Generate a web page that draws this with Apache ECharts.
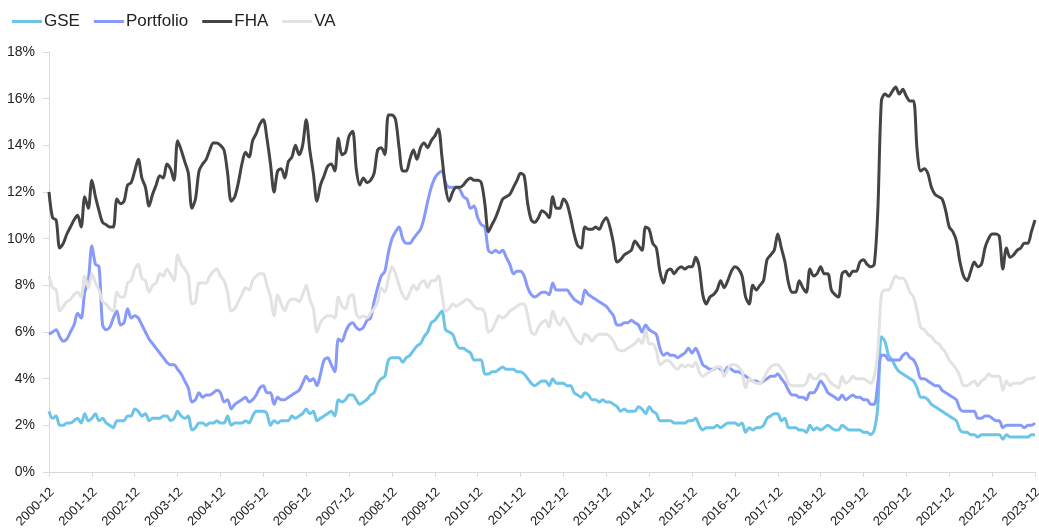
<!DOCTYPE html>
<html lang="en">
<head>
    <meta charset="utf-8">
    <title>Delinquency rates</title>
    <script src="https://cdn.jsdelivr.net/npm/echarts@6/dist/echarts.min.js"></script>
    <style>html,body{margin:0;padding:0;background:#fff;}</style>
</head>
<body>
<div id="main" style="width:1039px;height:531px;"></div>

<script type="text/javascript">
// month labels 2000-12 .. 2023-12
var months = ['2000-12'];
for (var y = 2001; y <= 2023; y++) {
    for (var m = 1; m <= 12; m++) {
        months.push(y + '-' + (m < 10 ? '0' + m : m));
    }
}

// values in %, one per month (first value = 2000-12, then one row per year)
var gse = [2.6,
    2.3, 2.4, 2.0, 2.0, 2.1, 2.1, 2.2, 2.3, 2.1, 2.5, 2.2, 2.3,
    2.5, 2.2, 2.3, 2.1, 2.0, 1.9, 2.2, 2.2, 2.2, 2.4, 2.4, 2.7,
    2.6, 2.4, 2.5, 2.2, 2.3, 2.3, 2.3, 2.4, 2.4, 2.2, 2.3, 2.6,
    2.4, 2.3, 2.4, 1.8, 1.9, 2.1, 2.1, 2.0, 2.1, 2.1, 2.2, 2.1,
    2.1, 2.4, 2.0, 2.1, 2.1, 2.1, 2.2, 2.1, 2.4, 2.6, 2.6, 2.6,
    2.5, 2.0, 2.2, 2.1, 2.2, 2.2, 2.2, 2.4, 2.3, 2.4, 2.5, 2.7,
    2.5, 2.6, 2.2, 2.3, 2.4, 2.5, 2.6, 2.4, 3.1, 3.0, 3.1, 3.3,
    3.3, 3.1, 2.9, 3.0, 3.1, 3.3, 3.4, 3.8, 4.0, 4.1, 4.8, 4.9,
    4.9, 4.9, 4.7, 4.9, 5.0, 5.2, 5.4, 5.5, 5.8, 6.0, 6.4, 6.5,
    6.7, 6.9, 6.1, 6.0, 5.9, 5.5, 5.3, 5.3, 5.2, 5.1, 4.8, 4.8,
    4.8, 4.2, 4.2, 4.3, 4.3, 4.4, 4.5, 4.4, 4.4, 4.4, 4.3, 4.3,
    4.2, 4.0, 3.8, 3.7, 3.8, 3.9, 3.9, 3.7, 4.0, 3.8, 3.8, 3.8,
    3.7, 3.7, 3.4, 3.3, 3.2, 3.4, 3.3, 3.1, 3.1, 3.0, 3.1, 3.0,
    3.0, 2.9, 2.8, 2.6, 2.7, 2.6, 2.6, 2.6, 2.8, 2.7, 2.5, 2.8,
    2.6, 2.5, 2.2, 2.2, 2.2, 2.2, 2.1, 2.1, 2.1, 2.1, 2.2, 2.2,
    2.3, 2.0, 1.8, 1.9, 1.9, 1.9, 2.0, 1.9, 2.0, 2.1, 2.1, 2.1,
    2.0, 2.1, 1.7, 1.9, 1.8, 1.9, 1.9, 2.0, 2.3, 2.4, 2.5, 2.5,
    2.2, 2.3, 1.9, 1.9, 1.9, 1.8, 1.8, 1.7, 2.0, 1.8, 1.9, 1.8,
    1.9, 2.0, 1.9, 1.8, 1.8, 2.0, 1.9, 1.8, 1.8, 1.8, 1.8, 1.7,
    1.7, 1.6, 1.8, 2.8, 5.8, 5.6, 5.0, 4.8, 4.5, 4.3, 4.2, 4.1,
    4.0, 3.9, 3.6, 3.2, 3.2, 3.1, 2.9, 2.8, 2.7, 2.6, 2.5, 2.4,
    2.3, 2.2, 1.8, 1.7, 1.7, 1.6, 1.6, 1.5, 1.6, 1.6, 1.6, 1.6,
    1.6, 1.6, 1.4, 1.6, 1.5, 1.5, 1.5, 1.5, 1.5, 1.5, 1.6, 1.6];

var portfolio = [5.9,
    6.0, 6.1, 5.8, 5.6, 5.7, 6.0, 6.3, 6.8, 6.6, 7.7, 8.2, 9.7,
    8.9, 8.8, 6.3, 6.1, 6.2, 6.6, 6.9, 6.3, 6.4, 7.0, 6.6, 6.7,
    6.6, 6.3, 6.0, 5.7, 5.5, 5.3, 5.1, 4.9, 4.7, 4.6, 4.6, 4.4,
    4.2, 3.9, 3.6, 3.0, 3.1, 3.4, 3.2, 3.3, 3.3, 3.4, 3.5, 3.4,
    3.0, 3.1, 2.7, 2.9, 3.0, 3.1, 3.2, 3.0, 3.1, 3.3, 3.6, 3.7,
    3.4, 3.4, 2.9, 3.2, 3.1, 3.1, 3.2, 3.3, 3.4, 3.5, 3.8, 4.1,
    3.9, 4.0, 3.7, 4.2, 4.8, 4.9, 4.6, 4.3, 5.7, 5.6, 6.0, 6.3,
    6.4, 6.2, 6.1, 6.2, 6.5, 6.6, 7.3, 7.9, 8.4, 8.6, 9.4, 10.0,
    10.3, 10.5, 10.0, 9.8, 9.8, 10.0, 10.2, 10.4, 10.9, 11.6, 12.2, 12.6,
    12.8, 12.9, 12.4, 12.2, 12.2, 12.2, 12.1, 11.8, 11.7, 11.3, 11.4, 10.9,
    10.6, 10.5, 9.5, 9.4, 9.5, 9.4, 9.5, 9.2, 8.9, 8.5, 8.6, 8.6,
    8.4, 7.9, 7.6, 7.5, 7.6, 7.7, 7.7, 7.6, 8.1, 7.8, 7.8, 7.8,
    7.8, 7.6, 7.4, 7.3, 7.2, 7.8, 7.6, 7.5, 7.4, 7.3, 7.2, 7.1,
    6.9, 6.7, 6.3, 6.3, 6.4, 6.4, 6.5, 6.4, 6.3, 6.0, 6.3, 6.1,
    6.0, 5.9, 5.3, 5.0, 5.1, 5.0, 5.0, 4.9, 5.0, 5.1, 5.3, 5.1,
    5.3, 5.0, 4.6, 4.5, 4.4, 4.4, 4.5, 4.4, 4.3, 4.5, 4.4, 4.3,
    4.3, 4.2, 4.1, 4.0, 3.9, 3.9, 3.8, 3.9, 4.0, 4.1, 4.1, 4.2,
    4.0, 3.8, 3.5, 3.3, 3.3, 3.2, 3.2, 3.1, 3.4, 3.4, 3.6, 3.9,
    3.7, 3.4, 3.3, 3.2, 3.1, 3.3, 3.1, 3.2, 3.3, 3.2, 3.2, 3.1,
    3.1, 2.9, 2.9, 3.8, 5.0, 5.0, 4.8, 4.8, 4.8, 4.8, 5.0, 5.1,
    4.9, 4.8, 4.5, 4.0, 4.0, 3.9, 3.8, 3.7, 3.7, 3.5, 3.4, 3.3,
    3.2, 3.1, 2.7, 2.6, 2.6, 2.6, 2.6, 2.3, 2.3, 2.4, 2.4, 2.3,
    2.2, 2.2, 1.9, 2.0, 2.0, 2.0, 2.0, 2.0, 1.9, 2.0, 2.0, 2.1];

var fha = [12.0,
    10.9, 10.8, 9.6, 9.8, 10.2, 10.5, 10.8, 11.0, 10.5, 11.8, 11.3, 12.5,
    11.8, 11.2, 10.7, 10.6, 10.5, 10.5, 11.7, 11.5, 11.6, 12.3, 12.4, 12.9,
    13.4, 12.6, 12.2, 11.4, 11.9, 12.3, 12.7, 12.6, 13.2, 13.0, 12.5, 14.2,
    13.8, 13.3, 12.8, 11.3, 11.7, 12.9, 13.2, 13.4, 13.8, 14.1, 14.1, 14.0,
    13.8, 12.8, 11.6, 11.8, 12.4, 13.2, 13.7, 13.5, 14.2, 14.5, 14.9, 15.1,
    14.3, 13.2, 12.0, 12.9, 13.0, 12.6, 13.3, 13.5, 14.0, 13.6, 14.0, 15.1,
    13.8, 12.8, 11.6, 12.3, 12.7, 13.1, 13.2, 12.9, 14.3, 13.6, 13.7, 14.4,
    14.6, 13.0, 12.3, 12.6, 12.4, 12.5, 12.8, 13.8, 13.9, 13.6, 15.3, 15.3,
    15.1, 13.9, 12.9, 12.9, 13.4, 13.8, 13.4, 13.9, 14.1, 13.9, 14.2, 14.4,
    14.7, 13.5, 12.2, 11.6, 12.0, 12.2, 12.2, 12.3, 12.5, 12.6, 12.5, 12.5,
    12.4, 11.5, 10.3, 10.6, 10.9, 11.3, 11.7, 11.8, 11.9, 12.2, 12.5, 12.8,
    12.7, 11.5, 10.8, 10.7, 10.9, 11.2, 11.1, 10.9, 11.8, 11.3, 11.3, 11.7,
    11.5, 10.9, 10.2, 9.7, 9.6, 10.5, 10.4, 10.4, 10.5, 10.4, 10.7, 10.9,
    10.5, 9.8, 9.0, 9.1, 9.3, 9.4, 9.5, 9.9, 9.7, 9.5, 10.5, 10.4,
    9.8, 9.6, 8.6, 8.1, 8.6, 8.7, 8.5, 8.7, 8.8, 8.7, 8.8, 8.8,
    9.2, 8.8, 7.6, 7.2, 7.5, 7.6, 7.8, 8.2, 7.9, 8.2, 8.6, 8.8,
    8.7, 8.4, 7.5, 7.2, 8.0, 7.8, 8.0, 8.2, 9.1, 9.3, 9.5, 10.2,
    9.6, 9.0, 8.1, 7.7, 7.7, 8.2, 7.9, 7.7, 8.7, 8.4, 8.5, 8.8,
    8.5, 8.5, 7.8, 7.6, 7.5, 8.5, 8.6, 8.4, 8.6, 8.6, 9.0, 9.1,
    8.9, 8.8, 8.9, 11.2, 15.9, 16.2, 16.1, 16.3, 16.5, 16.2, 16.4, 16.1,
    15.9, 15.9, 13.8, 12.9, 13.0, 12.8, 12.2, 11.9, 11.8, 11.7, 11.2, 10.5,
    10.3, 9.9, 9.0, 8.4, 8.2, 8.6, 9.0, 8.8, 8.9, 9.6, 10.0, 10.2,
    10.2, 10.1, 8.7, 9.6, 9.2, 9.3, 9.5, 9.6, 9.8, 9.8, 10.3, 10.8];

var va = [8.4,
    7.9, 7.8, 6.9, 7.1, 7.3, 7.4, 7.6, 7.7, 7.5, 8.4, 7.9, 8.5,
    8.1, 7.8, 7.3, 7.2, 7.0, 6.9, 7.7, 7.5, 7.5, 8.1, 8.2, 8.7,
    8.9, 8.3, 8.2, 7.7, 8.0, 8.1, 8.5, 8.4, 8.7, 8.5, 8.2, 9.3,
    8.9, 8.7, 8.4, 7.2, 7.3, 8.1, 8.1, 8.1, 8.4, 8.6, 8.7, 8.4,
    8.2, 7.7, 6.9, 7.0, 7.3, 7.6, 7.9, 7.8, 8.2, 8.4, 8.5, 8.5,
    8.0, 7.5, 6.7, 7.6, 7.2, 6.9, 7.3, 7.4, 7.4, 7.3, 7.6, 8.0,
    7.4, 7.0, 6.0, 6.4, 6.6, 6.7, 6.7, 6.6, 7.5, 7.1, 7.0, 7.5,
    7.6, 6.8, 6.6, 6.7, 6.6, 6.8, 7.0, 7.3, 7.9, 7.7, 8.3, 8.8,
    8.5, 8.0, 7.6, 7.4, 7.7, 8.0, 7.8, 8.1, 8.2, 7.9, 8.2, 8.2,
    8.4, 7.6, 6.9, 7.0, 7.2, 7.1, 7.2, 7.3, 7.4, 7.3, 7.1, 7.0,
    7.0, 6.8, 6.0, 6.1, 6.4, 6.7, 6.6, 6.7, 6.9, 7.0, 7.1, 7.2,
    7.2, 6.7, 6.0, 5.9, 6.2, 6.4, 6.5, 6.2, 6.9, 6.5, 6.3, 6.6,
    6.4, 6.1, 5.8, 5.6, 5.5, 5.9, 5.8, 5.6, 5.8, 5.9, 5.9, 5.9,
    5.8, 5.6, 5.3, 5.2, 5.2, 5.3, 5.4, 5.5, 5.7, 5.5, 6.1, 5.5,
    5.5, 5.2, 4.6, 4.7, 4.8, 4.7, 4.5, 4.4, 4.6, 4.5, 4.6, 4.5,
    4.7, 4.3, 4.1, 4.2, 4.3, 4.4, 4.5, 4.5, 4.1, 4.4, 4.6, 4.6,
    4.5, 4.3, 3.6, 4.0, 3.9, 3.8, 3.8, 4.0, 4.3, 4.5, 4.6, 4.6,
    4.4, 4.2, 3.8, 3.7, 3.7, 3.7, 3.7, 3.8, 4.2, 4.0, 4.0, 4.2,
    4.2, 4.0, 3.8, 3.7, 3.6, 4.1, 3.8, 3.9, 4.1, 4.0, 4.0, 4.0,
    3.9, 3.8, 4.1, 5.2, 7.6, 7.8, 7.8, 8.1, 8.4, 8.3, 8.3, 8.1,
    7.7, 7.5, 6.9, 6.2, 6.1, 5.9, 5.8, 5.6, 5.5, 5.3, 5.1, 4.8,
    4.6, 4.4, 4.1, 3.7, 3.7, 3.8, 3.9, 3.7, 3.9, 4.0, 4.2, 4.1,
    4.1, 4.1, 3.5, 3.9, 3.7, 3.8, 3.8, 3.8, 3.9, 4.0, 4.0, 4.1];

var seriesNames = ['GSE', 'Portfolio', 'FHA', 'VA'];
var seriesColors = ['#6cc4e8', '#8799fa', '#444444', '#e2e2e2'];
var seriesData = [gse, portfolio, fha, va];

var myChart = echarts.init(document.getElementById('main'));

var series = seriesNames.map(function (name, k) {
    return {
        name: name,
        type: 'line',
        data: seriesData[k],
        symbol: 'none',
        smooth: 0.3,
        color: seriesColors[k],
        lineStyle: { width: 3, color: seriesColors[k] }
    };
});

myChart.setOption({
    animation: false,
    textStyle: { fontFamily: 'Liberation Sans, Arial, sans-serif' },
    legend: {
        left: 7,
        top: 8,
        icon: 'rect',
        itemWidth: 30,
        itemHeight: 3,
        itemGap: 14,
        textStyle: { fontSize: 17, color: '#222', padding: [0, 0, 0, -3] },
        data: seriesNames
    },
    grid: { left: 49, right: 4, top: 52, bottom: 59, containLabel: false, outerBoundsMode: 'none' },
    xAxis: {
        type: 'category',
        data: months,
        boundaryGap: false,
        axisLine: { lineStyle: { color: '#d9d9d9', width: 1 } },
        axisTick: { show: true, interval: 11, length: 5, lineStyle: { color: '#d9d9d9' } },
        axisLabel: {
            interval: 11, rotate: 45, fontSize: 13, color: '#222',
            margin: 12, verticalAlign: 'top', padding: [0, 2, 0, 0]
        },
        splitLine: { show: false }
    },
    yAxis: {
        type: 'value',
        min: 0,
        max: 18,
        interval: 2,
        axisLine: { show: true, lineStyle: { color: '#d9d9d9', width: 1 } },
        axisTick: { show: true, length: 6, lineStyle: { color: '#d9d9d9' } },
        axisLabel: { formatter: '{value}%', fontSize: 14, color: '#222', margin: 14 },
        splitLine: { show: false }
    },
    series: series
});
</script>
</body>
</html>
